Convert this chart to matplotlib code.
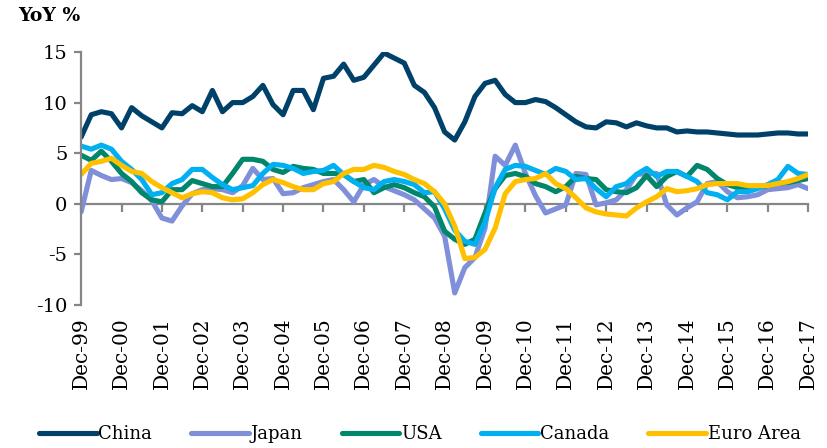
import numpy as np
import matplotlib
matplotlib.use("Agg")
import matplotlib.pyplot as plt

# quarterly YoY %, Dec-99 .. Dec-17 (73 quarters)
china = [6.6, 8.8, 9.1, 8.9, 7.5, 9.5, 8.7, 8.1, 7.5, 9.0,
         8.9, 9.7, 9.1, 11.2, 9.1, 10.0, 10.0, 10.6, 11.7, 9.8,
         8.8, 11.2, 11.2, 9.3, 12.4, 12.6, 13.8, 12.2, 12.5, 13.7,
         14.9, 14.4, 13.9, 11.7, 11.0, 9.5, 7.1, 6.3, 8.1, 10.6,
         11.9, 12.2, 10.8, 10.0, 10.0, 10.3, 10.1, 9.5, 8.8, 8.1,
         7.6, 7.5, 8.1, 8.0, 7.6, 8.0, 7.7, 7.5, 7.5, 7.1,
         7.2, 7.1, 7.1, 7.0, 6.9, 6.8, 6.8, 6.8, 6.9, 7.0,
         7.0, 6.9, 6.9]
japan = [-0.8, 3.3, 2.8, 2.4, 2.5, 2.1, 1.3, 0.3, -1.4, -1.7,
         -0.2, 1.0, 1.4, 1.5, 1.4, 1.1, 1.8, 3.5, 2.4, 2.5,
         1.0, 1.1, 1.6, 1.9, 2.2, 2.4, 1.4, 0.2, 1.9, 2.4,
         1.7, 1.3, 0.9, 0.4, -0.5, -1.4, -3.2, -8.8, -6.3, -5.3,
         -2.4, 4.7, 3.8, 5.8, 3.0, 0.8, -0.9, -0.5, -0.1, 3.0,
         2.9, -0.1, 0.1, 0.4, 1.4, 2.9, 3.0, 3.0, -0.1, -1.1,
         -0.4, 0.2, 2.0, 2.2, 1.2, 0.6, 0.7, 0.9, 1.4, 1.5,
         1.6, 1.9, 1.5]
usa = [4.8, 4.3, 5.2, 4.2, 3.0, 2.2, 1.1, 0.4, 0.2, 1.4,
       1.4, 2.3, 2.0, 1.7, 1.7, 3.0, 4.4, 4.4, 4.2, 3.4,
       3.1, 3.7, 3.5, 3.4, 3.0, 3.0, 2.9, 2.2, 2.4, 1.1,
       1.6, 1.9, 1.6, 1.1, 0.7, -0.3, -2.7, -3.5, -4.0, -3.5,
       -0.9, 1.5, 2.8, 3.0, 2.7, 2.0, 1.7, 1.2, 1.7, 2.7,
       2.5, 2.4, 1.4, 1.2, 1.1, 1.6, 2.8, 1.7, 2.7, 3.2,
       2.7, 3.8, 3.4, 2.5, 1.9, 1.6, 1.6, 1.6, 1.8, 2.0,
       2.1, 2.3, 2.5]
canada = [5.7, 5.4, 5.8, 5.4, 4.2, 3.4, 2.4, 0.9, 1.1, 2.0,
          2.4, 3.4, 3.4, 2.6, 1.9, 1.4, 1.6, 1.8, 3.0, 3.9,
          3.8, 3.5, 3.0, 3.2, 3.3, 3.8, 2.9, 2.2, 1.6, 1.4,
          2.2, 2.4, 2.2, 1.9, 1.1, 1.2, -0.5, -2.6, -3.7, -4.0,
          -1.8, 1.6, 3.4, 3.8, 3.7, 3.3, 2.9, 3.5, 3.2, 2.4,
          2.5, 1.5, 0.7, 1.7, 2.0, 2.9, 3.5, 2.7, 3.2, 3.2,
          2.7, 2.2, 1.1, 0.9, 0.4, 1.2, 1.2, 1.5, 1.9, 2.4,
          3.7, 3.0, 2.9]
euro = [2.9, 4.0, 4.2, 4.5, 3.8, 3.2, 3.0, 2.2, 1.6, 1.1,
        0.6, 1.0, 1.2, 1.1, 0.6, 0.4, 0.5, 1.1, 1.9, 2.4,
        2.1, 1.7, 1.4, 1.4, 2.0, 2.2, 3.0, 3.4, 3.4, 3.8,
        3.6, 3.2, 2.9, 2.4, 2.0, 1.2, 0.0, -2.2, -5.4, -5.3,
        -4.5, -2.4, 1.0, 2.2, 2.4, 2.5, 3.0, 2.0, 1.5, 0.6,
        -0.4, -0.8, -1.0, -1.1, -1.2, -0.4, 0.2, 0.7, 1.5, 1.2,
        1.3, 1.5, 1.9, 2.0, 2.0, 2.0, 1.8, 1.8, 1.8, 2.0,
        2.2, 2.5, 2.9]

series_names = ["China", "Japan", "USA", "Canada", "Euro Area"]
year_labels = ["Dec-99", "Dec-00", "Dec-01", "Dec-02", "Dec-03", "Dec-04",
               "Dec-05", "Dec-06", "Dec-07", "Dec-08", "Dec-09", "Dec-10",
               "Dec-11", "Dec-12", "Dec-13", "Dec-14", "Dec-15", "Dec-16",
               "Dec-17"]
y_ticks = [-10, -5, 0, 5, 10, 15]

colors = ["#00416A", "#7F8FDA", "#00866A", "#00B0F0", "#FFC000"]
GREY = "#868686"

plt.rcParams["font.family"] = "DejaVu Serif"
plt.rcParams["axes.unicode_minus"] = False

fig = plt.figure(figsize=(8.28, 4.48), dpi=100)
ax = fig.add_axes([0.098, 0.319, 0.878, 0.565])

x = np.arange(len(china))
for vals, name, col in zip([china, japan, usa, canada, euro], series_names, colors):
    ax.plot(x, vals, color=col, lw=3.7, label=name, solid_joinstyle="round",
            solid_capstyle="round")

ax.set_xlim(0, len(china) - 1)
ax.set_ylim(-10, 15)

# axis line at zero with year ticks, labels sit at the bottom
for s in ["top", "right"]:
    ax.spines[s].set_visible(False)
ax.spines["bottom"].set_position(("data", 0))
for s in ["bottom", "left"]:
    ax.spines[s].set_color(GREY)
    ax.spines[s].set_linewidth(1.6)
ax.spines["bottom"].set_zorder(0)

tick_pos = np.arange(0, len(china), 4)
ax.set_xticks(tick_pos)
ax.tick_params(axis="x", length=6, width=1.6, color=GREY, labelbottom=False)
ax.set_yticks(y_ticks)
ax.tick_params(axis="y", length=5, width=1.6, color=GREY, labelsize=14, pad=5)

sec = ax.secondary_xaxis("bottom")
sec.set_xticks(tick_pos)
sec.set_xticklabels(year_labels, rotation=90, fontsize=14.5)
sec.tick_params(length=0, pad=9)
sec.spines["bottom"].set_visible(False)

fig.text(0.022, 0.965, "YoY %", fontsize=13.5, fontweight="bold", va="center", ha="left")

fig.legend(loc="lower center", bbox_to_anchor=(0.507, -0.025), ncol=5, frameon=False,
           fontsize=13, handlelength=3.2, handletextpad=0.1, columnspacing=2.15)

fig.savefig("out.png", dpi=100)
